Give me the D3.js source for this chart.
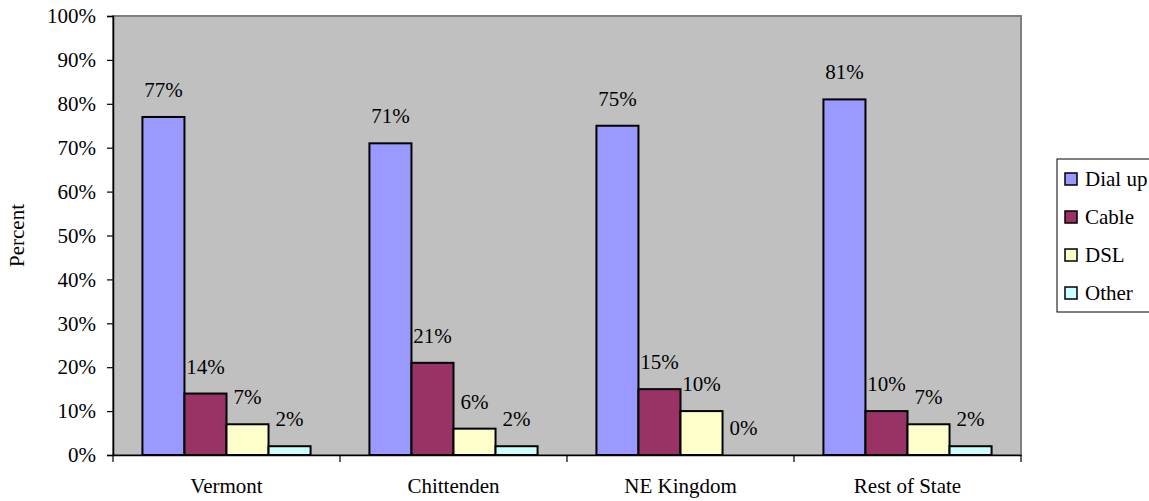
<!DOCTYPE html>
<html>
<head>
<meta charset="utf-8">
<script src="https://cdn.jsdelivr.net/npm/d3@7"></script>
<style>
  html, body { margin: 0; padding: 0; background: #fff; }
  svg { display: block; }
  svg text { font-family: "Liberation Serif", "Times New Roman", serif !important; fill: #000; }
</style>
</head>
<body>
<svg id="chart" width="1149" height="501"></svg>
<script>
const categories = ["Vermont", "Chittenden", "NE Kingdom", "Rest of State"];
const seriesNames = ["Dial up", "Cable", "DSL", "Other"];
const dialUp = [77, 71, 75, 81];
const cable  = [14, 21, 15, 10];
const dsl    = [7, 6, 10, 7];
const other  = [2, 2, 0, 2];
const yTicks = [0, 10, 20, 30, 40, 50, 60, 70, 80, 90, 100];
const colors = ["#9999FF", "#993366", "#FFFFCC", "#CCFFFF"];

const seriesValues = [dialUp, cable, dsl, other];
const FONT = "'Liberation Serif', 'Times New Roman', serif";

const svg = d3.select("#chart");
const plot = { left: 113, right: 1021, top: 16, bottom: 455 };
const fontSize = 21;

const x0 = d3.scaleBand().domain(categories).range([plot.left, plot.right]).paddingInner(0).paddingOuter(0);
const x1 = d3.scaleBand().domain(seriesNames).range([0, x0.bandwidth()]).paddingInner(0).paddingOuter(0.70);
const y = d3.scaleLinear().domain([0, 100]).range([plot.bottom, plot.top]);

// plot area
svg.append("rect")
  .attr("x", plot.left).attr("y", plot.top)
  .attr("width", plot.right - plot.left).attr("height", plot.bottom - plot.top)
  .attr("fill", "#C0C0C0").attr("stroke", "#808080").attr("stroke-width", 2);

// bars
const groups = svg.selectAll("g.cat").data(categories).enter().append("g")
  .attr("class", "cat")
  .attr("transform", d => `translate(${x0(d)},0)`);

seriesNames.forEach((s, si) => {
  groups.append("rect")
    .attr("x", x1(s))
    .attr("y", (d, ci) => y(seriesValues[si][ci]))
    .attr("width", x1.bandwidth())
    .attr("height", (d, ci) => y(0) - y(seriesValues[si][ci]))
    .attr("fill", colors[si])
    .attr("stroke", "#000").attr("stroke-width", 2);
  groups.append("text")
    .attr("x", x1(s) + x1.bandwidth() / 2)
    .attr("y", (d, ci) => y(seriesValues[si][ci]) - 20)
    .attr("text-anchor", "middle")
    .style("font-family", FONT)
    .style("font-size", fontSize + "px")
    .text((d, ci) => seriesValues[si][ci] + "%");
});

// y axis
const yAxis = d3.axisLeft(y).tickValues(yTicks).tickFormat(d => d + "%").tickSize(6).tickPadding(11);
const gy = svg.append("g").attr("transform", `translate(${plot.left},0)`).call(yAxis);
gy.attr("font-family", null).attr("font-size", null);
gy.select(".domain").attr("stroke", "#000").attr("stroke-width", 1.5);
gy.selectAll(".tick line").attr("stroke", "#000").attr("stroke-width", 1.2);
gy.selectAll(".tick text").style("font-size", fontSize + "px").style("font-family", FONT).attr("fill", "#000");

// x axis
const xAxis = d3.axisBottom(x0).tickSize(0).tickPadding(23);
const gx = svg.append("g").attr("transform", `translate(0,${plot.bottom})`).call(xAxis);
gx.attr("font-family", null).attr("font-size", null);
gx.select(".domain").attr("stroke", "#000").attr("stroke-width", 1.5);
gx.selectAll(".tick text").style("font-size", fontSize + "px").style("font-family", FONT).attr("fill", "#000");
// category boundary ticks
const bounds = categories.map(c => x0(c)).concat([x0(categories[categories.length - 1]) + x0.bandwidth()]);
gx.selectAll("line.bound").data(bounds).enter().append("line")
  .attr("class", "bound")
  .attr("x1", d => d).attr("x2", d => d)
  .attr("y1", 0).attr("y2", 7)
  .attr("stroke", "#000").attr("stroke-width", 1.2);

// y axis title
svg.append("text")
  .attr("transform", `translate(24,${(plot.top + plot.bottom) / 2}) rotate(-90)`)
  .attr("text-anchor", "middle")
  .style("font-family", FONT)
  .style("font-size", fontSize + "px")
  .text("Percent");

// legend
const legend = svg.append("g").attr("transform", "translate(1057,159)");
legend.append("rect")
  .attr("x", 0).attr("y", 0).attr("width", 120).attr("height", 153)
  .attr("fill", "#fff").attr("stroke", "#000").attr("stroke-width", 1);
seriesNames.forEach((s, i) => {
  const cy = 20 + i * 38;
  legend.append("rect")
    .attr("x", 8).attr("y", cy - 6).attr("width", 12).attr("height", 12)
    .attr("fill", colors[i]).attr("stroke", "#000").attr("stroke-width", 1.5);
  legend.append("text")
    .attr("x", 28).attr("y", cy + 7)
    .style("font-family", FONT)
    .style("font-size", fontSize + "px")
    .text(s);
});
</script>
</body>
</html>
